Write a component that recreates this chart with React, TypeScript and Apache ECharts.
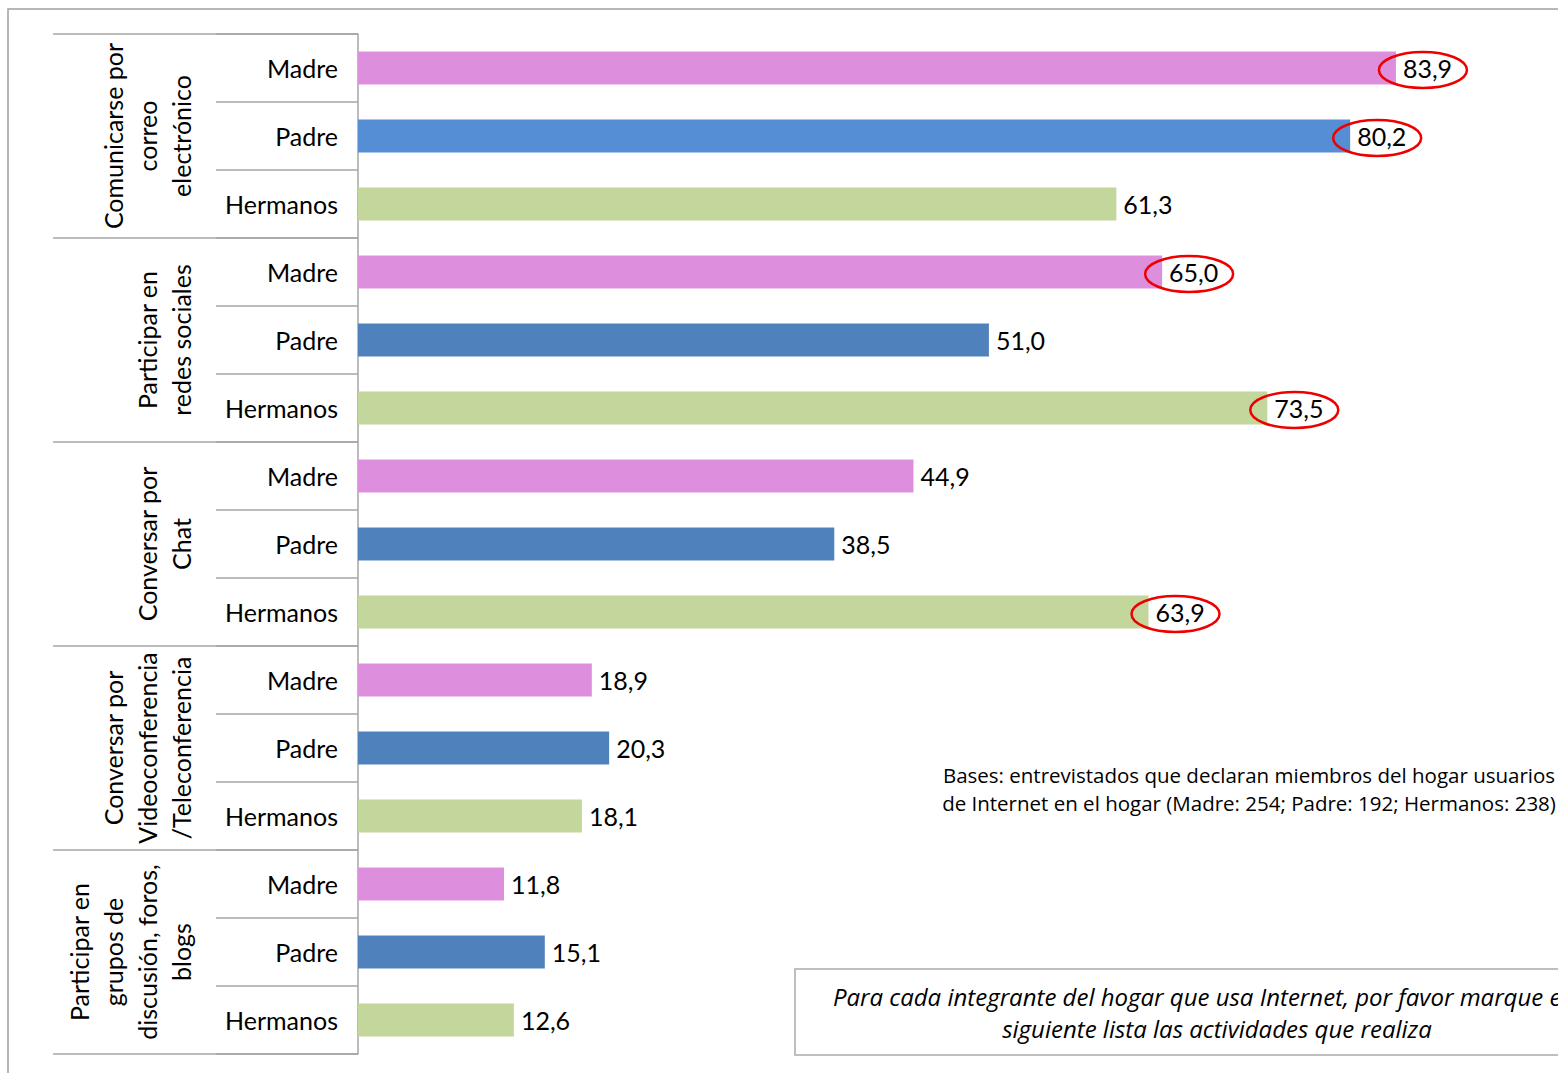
import React, { useEffect, useRef } from "react";
import * as echarts from "echarts";

const groups = [
  "Comunicarse por\ncorreo\nelectrónico",
  "Participar en\nredes sociales",
  "Conversar por\nChat",
  "Conversar por\nVideoconferencia\n/Teleconferencia",
  "Participar en\ngrupos de\ndiscusión, foros,\nblogs",
];
const members = ["Madre", "Padre", "Hermanos"];
const madre = [83.9, 65.0, 44.9, 18.9, 11.8];
const padre = [80.2, 51.0, 38.5, 20.3, 15.1];
const hermanos = [61.3, 73.5, 63.9, 18.1, 12.6];
// values that are circled in red
const madreCircled = [true, true, false, false, false];
const padreCircled = [true, false, false, false, false];
const hermanosCircled = [false, true, true, false, false];

const madreColor = "#DD8EDD";
const padreColors = ["#558ED5", "#4F81BD", "#4F81BD", "#4F81BD", "#4F81BD"];
const hermanosColor = "#C3D69B";

const baseNote = "Bases: entrevistados que declaran miembros del hogar usuarios\nde Internet en el hogar (Madre: 254; Padre: 192; Hermanos: 238)";
const questionNote = "Para cada integrante del hogar que usa Internet, por favor marque en la\nsiguiente lista las actividades que realiza";

const FONT = "Lato, 'Noto Sans', sans-serif";
const NOTE_FONT = "'Open Sans', 'Noto Sans', sans-serif";

export default function App() {
  const ref = useRef<HTMLDivElement>(null);
  useEffect(() => {
    if (!ref.current) return;
    const chart = echarts.init(ref.current, undefined, { renderer: "svg" });

    const cats: string[] = [];
    const barData: any[] = [];
    const circleData: any[] = [];
    groups.forEach((g, gi) => {
      const vals = [madre[gi], padre[gi], hermanos[gi]];
      const cols = [madreColor, padreColors[gi], hermanosColor];
      const circ = [madreCircled[gi], padreCircled[gi], hermanosCircled[gi]];
      members.forEach((m, mi) => {
        const idx = cats.length;
        cats.push(idx + "|" + m);
        barData.push({ value: vals[mi], itemStyle: { color: cols[mi] } });
        if (circ[mi]) circleData.push([vals[mi], idx]);
      });
    });

    const option: any = {
      animation: false,
      backgroundColor: "#ffffff",
      grid: { left: 358, top: 34, height: 1020, right: 0, containLabel: false },
      xAxis: { type: "value", min: 0, max: 97, show: false },
      yAxis: [
        {
          type: "category",
          data: cats,
          inverse: true,
          position: "left",
          axisLine: { show: true, lineStyle: { color: "#A6A6A6", width: 1.5 } },
          axisTick: { show: true, length: 142, lineStyle: { color: "#A6A6A6", width: 1.5 } },
          axisLabel: {
            interval: 0,
            margin: 20,
            fontFamily: FONT,
            fontSize: 25,
            color: "#000",
            padding: [6, 0, 0, 0],
            formatter: (v: string) => v.split("|")[1],
          },
          splitLine: { show: false },
        },
        {
          type: "category",
          data: groups,
          inverse: true,
          position: "left",
          offset: 0,
          axisLine: { show: false },
          axisTick: { show: true, length: 305, lineStyle: { color: "#A6A6A6", width: 1.5 } },
          axisLabel: {
            interval: 0,
            rotate: 90,
            margin: 160,
            fontFamily: FONT,
            fontSize: 25,
            lineHeight: 34,
            color: "#000",
            align: "center",
          },
          splitLine: { show: false },
        },
      ],
      series: [
        {
          type: "bar",
          yAxisIndex: 0,
          barWidth: 33,
          data: barData,
          label: {
            show: true,
            position: "right",
            distance: 7,
            fontFamily: FONT,
            fontSize: 25,
            color: "#000",
            formatter: (p: any) => Number(p.value).toFixed(1).replace(".", ","),
          },
        },
        {
          type: "custom",
          yAxisIndex: 0,
          data: circleData,
          encode: { x: 0, y: 1 },
          silent: true,
          z: 5,
          renderItem: (params: any, api: any) => {
            const p = api.coord([api.value(0), api.value(1)]);
            return {
              type: "ellipse",
              shape: { cx: p[0] + 27, cy: p[1] + 2, rx: 44, ry: 18 },
              style: { fill: "none", stroke: "#EE0000", lineWidth: 2.5 },
            };
          },
        },
      ],
      graphic: [
        {
          type: "rect",
          shape: { x: 8, y: 9, width: 1700, height: 1200 },
          style: { fill: "none", stroke: "#A0A0A0", lineWidth: 1.5 },
          silent: true,
        },
        {
          type: "text",
          x: 1249,
          y: 789,
          style: {
            text: baseNote,
            fontFamily: NOTE_FONT,
            fontSize: 20.5,
            lineHeight: 28,
            fill: "#000",
            align: "center",
            verticalAlign: "middle",
          },
        },
        {
          type: "rect",
          shape: { x: 795, y: 969, width: 850, height: 86 },
          style: { fill: "#fff", stroke: "#BFBFBF", lineWidth: 2 },
        },
        {
          type: "text",
          x: 1217,
          y: 1012,
          z: 10,
          style: {
            text: questionNote,
            fontFamily: NOTE_FONT,
            fontStyle: "italic",
            fontSize: 24,
            lineHeight: 32,
            fill: "#000",
            align: "center",
            verticalAlign: "middle",
          },
        },
      ],
    };
    chart.setOption(option);
    return () => chart.dispose();
  }, []);

  return (
    <div style={{ position: "absolute", left: 0, top: 0, width: 1558, height: 1073, overflow: "hidden", background: "#fff" }}>
      <div ref={ref} style={{ width: 1558, height: 1073 }} />
    </div>
  );
}
